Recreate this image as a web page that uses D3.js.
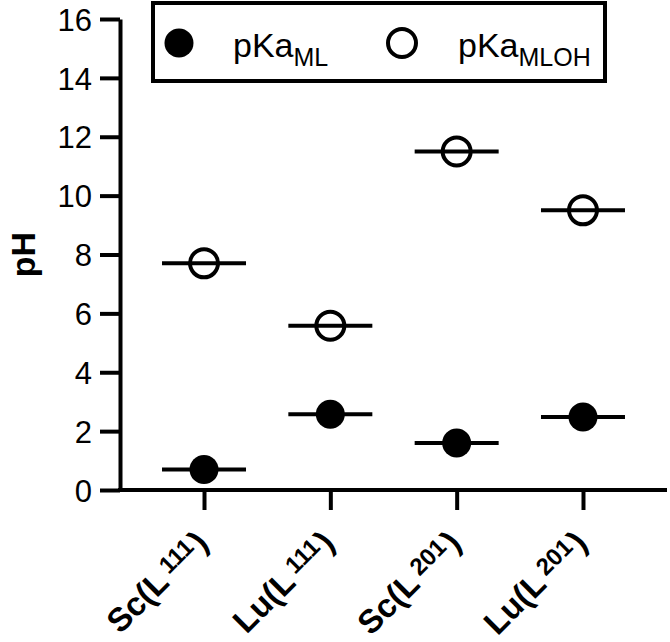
<!DOCTYPE html>
<html lang="en">
<head>
    <meta charset="UTF-8">
    <script src="https://cdnjs.cloudflare.com/ajax/libs/d3/7.8.5/d3.min.js"></script>
    <title>pKa chart</title>
    <style>
        body { margin: 0; background: #fff; }
        svg { font-family: "Liberation Sans", Arial, sans-serif; }
        .axis path, .axis line { stroke: #000; stroke-width: 4px; }
        .axis text { font-size: 31px; fill: #000; }
    </style>
</head>
<body>
    <div class="chart"></div>
    <script>
        // data
        var metals = ["Sc", "Lu", "Sc", "Lu"];
        var ligands = ["111", "111", "201", "201"];
        var pKaML = [0.7, 2.57, 1.6, 2.48];
        var pKaMLOH = [7.7, 5.58, 11.5, 9.5];
        var yTicks = [0, 2, 4, 6, 8, 10, 12, 14, 16];

        var categories = metals.map(function(m, i) { return i; });

        var width = 670, height = 642;
        var plotLeft = 120, plotRight = 667, plotTop = 19, plotBottom = 490;

        var svg = d3.select(".chart").append("svg")
            .attr("width", width)
            .attr("height", height);

        var x = d3.scalePoint()
            .domain(categories)
            .range([plotLeft, plotRight])
            .padding(0.665);
        var y = d3.scaleLinear()
            .domain([0, 16])
            .range([plotBottom, plotTop]);

        // y axis
        svg.append("g")
            .attr("class", "axis")
            .attr("transform", "translate(" + plotLeft + ",0)")
            .call(d3.axisLeft(y).tickValues(yTicks).tickSize(20).tickPadding(8).tickSizeOuter(0))
            .selectAll("text").attr("dy", "0.36em");

        // x axis
        var xAxis = svg.append("g")
            .attr("class", "axis")
            .attr("transform", "translate(0," + plotBottom + ")")
            .call(d3.axisBottom(x).tickSize(20).tickSizeOuter(0).tickFormat(""));
        xAxis.select(".domain").attr("d", "M" + (plotLeft - 2) + ",0H" + plotRight);

        // rotated category labels
        var labels = svg.selectAll(".xlabel")
            .data(categories)
            .enter()
            .append("text")
            .attr("class", "xlabel")
            .attr("text-anchor", "end")
            .attr("font-size", "33px")
            .attr("font-weight", "bold")
            .attr("transform", function(d) {
                return "translate(" + (x(d) + 6) + "," + (plotBottom + 55) + ") rotate(-45)";
            });
        labels.append("tspan").text(function(d) { return metals[d] + "(L"; });
        labels.append("tspan")
            .attr("font-size", "24px")
            .attr("dx", 5)
            .attr("dy", -8)
            .text(function(d) { return ligands[d]; });
        labels.append("tspan")
            .attr("dy", 8)
            .attr("dx", 2)
            .text(")");

        // y label
        svg.append("text")
            .attr("transform", "translate(35," + ((plotTop + plotBottom) / 2) + ") rotate(-90)")
            .attr("text-anchor", "middle")
            .attr("font-size", "34px")
            .attr("font-weight", "bold")
            .text("pH");

        // points with value lines
        function drawSeries(values, filled) {
            var g = svg.append("g");
            g.selectAll("circle")
                .data(values)
                .enter()
                .append("circle")
                .attr("cx", function(d, i) { return x(categories[i]); })
                .attr("cy", function(d) { return y(d); })
                .attr("r", filled ? 14.5 : 14)
                .attr("fill", filled ? "#000" : "none")
                .attr("stroke", "#000")
                .attr("stroke-width", filled ? 0 : 4);
            g.selectAll("line")
                .data(values)
                .enter()
                .append("line")
                .attr("x1", function(d, i) { return x(categories[i]) - 42; })
                .attr("x2", function(d, i) { return x(categories[i]) + 42; })
                .attr("y1", function(d) { return y(d); })
                .attr("y2", function(d) { return y(d); })
                .attr("stroke", "#000")
                .attr("stroke-width", 4);
        }
        drawSeries(pKaML, true);
        drawSeries(pKaMLOH, false);

        // legend
        var legend = svg.append("g");
        legend.append("rect")
            .attr("x", 153).attr("y", 3)
            .attr("width", 452).attr("height", 78)
            .attr("fill", "#fff")
            .attr("stroke", "#000")
            .attr("stroke-width", 4);

        var legendItems = [
            { cx: 179, tx: 233, filled: true, sub: "ML" },
            { cx: 402, tx: 458, filled: false, sub: "MLOH" }
        ];
        legendItems.forEach(function(it) {
            legend.append("circle")
                .attr("cx", it.cx).attr("cy", 43)
                .attr("r", it.filled ? 14.5 : 14)
                .attr("fill", it.filled ? "#000" : "none")
                .attr("stroke", "#000")
                .attr("stroke-width", it.filled ? 0 : 4);
            var t = legend.append("text")
                .attr("x", it.tx).attr("y", 57)
                .attr("font-size", "34px");
            t.append("tspan").text("pKa");
            t.append("tspan")
                .attr("font-size", "25px")
                .attr("dy", 9)
                .text(it.sub);
        });
    </script>
</body>
</html>
